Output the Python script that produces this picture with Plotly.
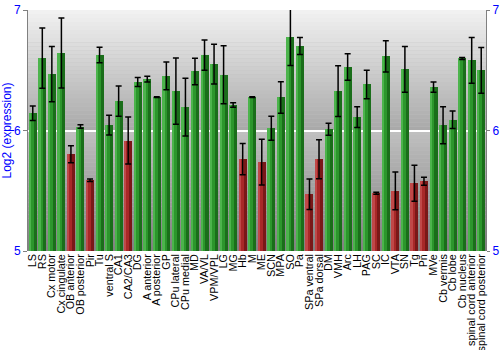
import plotly.graph_objects as go

categories = ["LS", "RS", "Cx motor", "Cx cingulate", "OB anterior", "OB posterior", "Pir", "Tu",
              "ventral S", "CA1", "CA2/CA3", "DG", "A anterior", "A posterior", "GP", "CPu lateral",
              "CPu medial", "MD", "VA/VL", "VPM/VPL", "LG", "MG", "Hb", "M", "ME", "SCN", "MPA",
              "SO", "Pa", "SPa ventral", "SPa dorsal", "DM", "VMH", "Arc", "LH", "PAG", "SC", "IC",
              "VTA", "SN", "Tg", "Pn", "MVe", "Cb vermis", "Cb lobe", "Cb nucleus",
              "spinal cord anterior", "spinal cord posterior"]
values = [6.144, 6.601, 6.468, 6.643, 5.803, 6.033, 5.587, 6.626,
          6.044, 6.244, 5.917, 6.402, 6.427, 6.277, 6.454, 6.327,
          6.194, 6.490, 6.626, 6.551, 6.463, 6.211, 5.762, 6.277, 5.737, 6.019, 6.274,
          6.773, 6.701, 5.471, 5.762, 6.011, 6.327, 6.526, 6.111, 6.382, 5.479, 6.615,
          5.499, 6.507, 5.562, 5.579, 6.360, 6.044, 6.089, 6.598,
          6.582, 6.499]
errors = [0.06, 0.25, 0.23, 0.29, 0.07, 0.015, 0.011, 0.064,
          0.082, 0.126, 0.195, 0.037, 0.024, 0.004, 0.115, 0.275,
          0.24, 0.11, 0.126, 0.165, 0.24, 0.019, 0.13, 0.003, 0.19, 0.10, 0.13,
          0.233, 0.07, 0.127, 0.162, 0.05, 0.21, 0.11, 0.086, 0.118, 0.008, 0.13,
          0.157, 0.19, 0.15, 0.033, 0.042, 0.154, 0.072, 0.008,
          0.19, 0.19]
low_flag = [0, 0, 0, 0, 1, 0, 1, 0,
            0, 0, 1, 0, 0, 0, 0, 0,
            0, 0, 0, 0, 0, 0, 1, 0, 1, 0, 0,
            0, 0, 1, 1, 0, 0, 0, 0, 0, 1, 0,
            1, 0, 1, 1, 0, 0, 0, 0,
            0, 0]

ymin, ymax = 5, 7
base = [ymin] * len(values)
heights = [v - ymin for v in values]

dark = ["#7a1818" if f else "#1a6e1a" for f in low_flag]
mid = ["#a82828" if f else "#2c962c" for f in low_flag]
light = ["#c04848" if f else "#4cb44c" for f in low_flag]

fig = go.Figure()
W = 0.84
fig.add_trace(go.Bar(x=categories, y=heights, base=base, width=W, marker=dict(color=dark, line=dict(width=0)),
                     hoverinfo="skip", showlegend=False))
fig.add_trace(go.Bar(x=categories, y=heights, base=base, width=W * 0.62, offset=-W / 2,
                     marker=dict(color=mid, line=dict(width=0)), hoverinfo="skip", showlegend=False))
fig.add_trace(go.Bar(x=categories, y=heights, base=base, width=W * 0.28, offset=-W / 2,
                     marker=dict(color=light, line=dict(width=0)), hoverinfo="skip", showlegend=False))
fig.add_trace(go.Scatter(x=categories, y=values, mode="markers", marker=dict(size=0.1, opacity=0),
                         error_y=dict(type="data", array=errors, color="black", thickness=1.5, width=3),
                         hoverinfo="skip", showlegend=False))
fig.add_trace(go.Scatter(x=[categories[0]], y=[ymin], yaxis="y2", mode="markers",
                         marker=dict(opacity=0), hoverinfo="skip", showlegend=False))

# background vertical gradient (two bands)
def lerp(c1, c2, t):
    return "#%02x%02x%02x" % tuple(int(round(a + (b - a) * t)) for a, b in zip(c1, c2))

n = 30
shapes = []
for i in range(n):
    t = i / n
    shapes.append(dict(type="rect", xref="paper", yref="y", x0=0, x1=1,
                       y0=7 - t, y1=7 - (i + 1) / n, line=dict(width=0),
                       fillcolor=lerp((242, 242, 242), (168, 168, 168), t + 0.5 / n), layer="below"))
    shapes.append(dict(type="rect", xref="paper", yref="y", x0=0, x1=1,
                       y0=6 - t, y1=6 - (i + 1) / n, line=dict(width=0),
                       fillcolor=lerp((192, 192, 192), (128, 128, 128), t + 0.5 / n), layer="below"))

fig.update_layout(
    width=500, height=350,
    margin=dict(l=28, r=14, t=10, b=99),
    barmode="overlay", bargap=0,
    paper_bgcolor="white", plot_bgcolor="#c0c0c0",
    font=dict(family="Liberation Sans, Arial, sans-serif"),
    shapes=shapes,
    xaxis=dict(tickangle=-90, tickfont=dict(size=10.8, color="black"), showgrid=False,
               tickmode="array", tickvals=categories, ticktext=categories,
               showline=False, ticks="", range=[-0.5, len(categories) - 0.5], automargin=False),
    yaxis=dict(range=[ymin, ymax], tickvals=[5, 6, 7], tickfont=dict(size=12, color="blue"),
               title=dict(text="Log2 (expression)", font=dict(size=12, color="blue"), standoff=4),
               showgrid=True, gridcolor="white", gridwidth=1.5, layer="below traces",
               showline=True, linecolor="#808080", linewidth=1, mirror=True, automargin=False,
               ticks="outside", ticklen=4, tickcolor="#808080", zeroline=False),
    yaxis2=dict(range=[ymin, ymax], tickvals=[5, 6, 7], overlaying="y", side="right", anchor="x",
                tickfont=dict(size=12, color="blue"), showgrid=False, ticks="outside", ticklen=3,
                ticklabelstandoff=0,
                tickcolor="#808080", showline=False, zeroline=False, automargin=False),
)

fig.write_html("out.html")
